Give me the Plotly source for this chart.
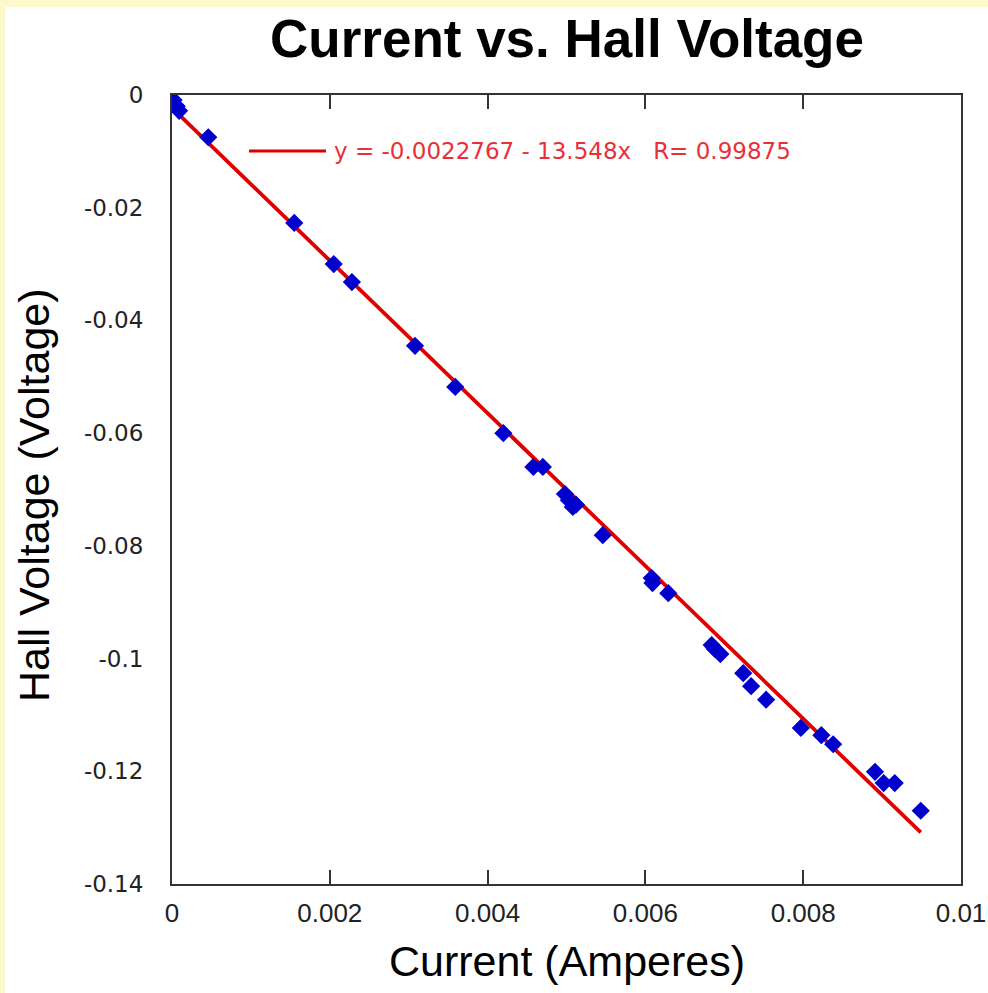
import plotly.graph_objects as go

# Data
current = [0.00002, 0.00006, 0.00009, 0.00046, 0.00155, 0.00205, 0.00228, 0.00308,
           0.00359, 0.00420, 0.00458, 0.00470, 0.00498, 0.00503, 0.00508, 0.00512,
           0.00546, 0.00608, 0.00609, 0.00629, 0.00684, 0.00688, 0.00695, 0.00724,
           0.00734, 0.00753, 0.00797, 0.00823, 0.00838, 0.00891, 0.00902, 0.00916,
           0.00949]
hall_voltage = [-0.0009, -0.0020, -0.0028, -0.0075, -0.0227, -0.0300, -0.0332, -0.0445,
                -0.0518, -0.0600, -0.0660, -0.0660, -0.0708, -0.0719, -0.0731, -0.0727,
                -0.0781, -0.0857, -0.0866, -0.0884, -0.0976, -0.0983, -0.0992, -0.1026,
                -0.1049, -0.1073, -0.1123, -0.1136, -0.1152, -0.1201, -0.1221, -0.1221,
                -0.1270]

fit_intercept = -0.0022767
fit_slope = -13.548
fit_r = 0.99875

x_tickvals = [0, 0.002, 0.004, 0.006, 0.008, 0.01]
x_ticktext = ["0", "0.002", "0.004", "0.006", "0.008", "0.01"]
y_tickvals = [0, -0.02, -0.04, -0.06, -0.08, -0.1, -0.12, -0.14]
y_ticktext = ["0", "-0.02", "-0.04", "-0.06", "-0.08", "-0.1", "-0.12", "-0.14"]

fit_x = sorted(current)
fit_y = [fit_intercept + fit_slope * v for v in fit_x]

fig = go.Figure()
fig.add_trace(go.Scatter(x=fit_x, y=fit_y, mode="lines",
                         line=dict(color="#E00000", width=3.8), showlegend=False))
fig.add_trace(go.Scatter(x=current, y=hall_voltage, mode="markers",
                         marker=dict(symbol="diamond", size=14, color="#0000CC",
                                     line=dict(width=0)), showlegend=False))

W, H = 988, 993
L, R, T, B = 172, 961, 95, 884
pw, ph = R - L, B - T

def px(xp):
    return (xp - L) / pw

def py(yp):
    return (B - yp) / ph

shapes = [
    dict(type="rect", xref="paper", yref="paper", x0=px(5), x1=px(995), y0=py(7), y1=py(1000),
         fillcolor="white", line=dict(width=0), layer="below"),
    dict(type="line", xref="paper", yref="paper", x0=px(249), x1=px(326), y0=py(151), y1=py(151),
         line=dict(color="#E00000", width=3)),
]

legend_text = "y = %s - %sx   R= %s" % (fit_intercept, abs(fit_slope), fit_r)

fig.update_layout(
    width=W, height=H,
    margin=dict(l=L, r=W - R, t=T, b=H - B, autoexpand=False),
    paper_bgcolor="#FEF8CD",
    plot_bgcolor="white",
    shapes=shapes,
    annotations=[
        dict(text=legend_text, xref="paper", yref="paper", x=px(332), y=py(151),
             xanchor="left", yanchor="middle", showarrow=False,
             font=dict(family="DejaVu Sans", size=23, color="#E8303A")),
        dict(text="Current (Amperes)", xref="paper", yref="paper", x=0.5, y=py(961),
             xanchor="center", yanchor="middle", showarrow=False,
             font=dict(family="Liberation Sans, Arial", size=43, color="black")),
        dict(text="Hall Voltage (Voltage)", xref="paper", yref="paper", x=px(34), y=py(495),
             xanchor="center", yanchor="middle", showarrow=False, textangle=-90,
             font=dict(family="Liberation Sans, Arial", size=43, color="black")),
    ],
    title=dict(text="<b>Current vs. Hall Voltage</b>", x=567 / W, y=1 - 38 / H,
               xanchor="center", yanchor="middle",
               font=dict(family="Liberation Sans, Arial", size=53, color="black")),
    xaxis=dict(range=[0, 0.01], tickvals=x_tickvals, ticktext=x_ticktext, automargin=False,
               showgrid=False, zeroline=False, showline=True, linecolor="#333333", linewidth=2,
               mirror="ticks", ticks="inside", ticklen=14, tickwidth=1.5, tickcolor="#333333",
               ticklabelstandoff=5,
               tickfont=dict(family="Liberation Sans, Arial", size=26, color="#222222")),
    yaxis=dict(range=[-0.14, 0], tickvals=y_tickvals, ticktext=y_ticktext, automargin=False,
               showgrid=False, zeroline=False, showline=True, linecolor="#333333", linewidth=2,
               mirror=True, ticks="", ticklabelstandoff=22,
               tickfont=dict(family="DejaVu Sans", size=23, color="#222222")),
)

fig.write_html("out.html")
